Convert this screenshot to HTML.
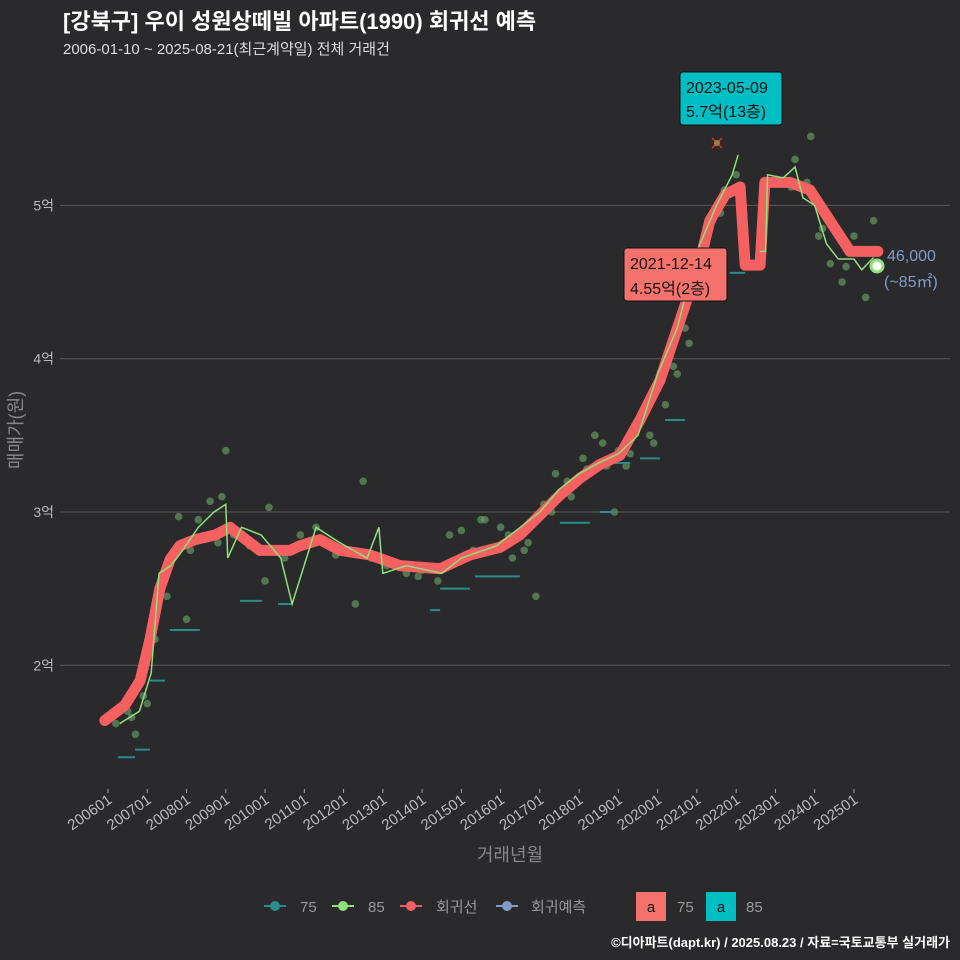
<!DOCTYPE html>
<html><head><meta charset="utf-8">
<style>
body{margin:0;background:#2a292c;font-family:"Liberation Sans","Noto Sans CJK KR",sans-serif;}
#wrap{position:relative;width:960px;height:960px;background:#2a292c;overflow:hidden}
</style></head>
<body>
<div id="wrap">
<svg id="svg" width="960" height="960" xmlns="http://www.w3.org/2000/svg">
<text x="63" y="29" fill="#fff" font-size="22" font-weight="bold" font-family="Liberation Sans,Noto Sans CJK KR,sans-serif">[강북구] 우이 성원상떼빌 아파트(1990) 회귀선 예측</text>
<text x="63" y="54" fill="#ddd" font-size="15" font-family="Liberation Sans,Noto Sans CJK KR,sans-serif">2006-01-10 ~ 2025-08-21(최근계약일) 전체 거래건</text>
<g id="grid"></g><g id="marks"></g><g id="ann"></g>
<text x="510" y="861" fill="#888" font-size="18" text-anchor="middle" font-family="Liberation Sans,Noto Sans CJK KR,sans-serif">거래년월</text>
<text transform="translate(22,430) rotate(-90)" fill="#888" font-size="18" text-anchor="middle" font-family="Liberation Sans,Noto Sans CJK KR,sans-serif">매매가(원)</text>
<g id="legend" font-size="15" fill="#999" font-family="Liberation Sans,Noto Sans CJK KR,sans-serif">
 <g><line x1="264" y1="906" x2="286" y2="906" stroke="#2a8c8c" stroke-width="2"/><circle cx="275" cy="906" r="5" fill="#2a8c8c"/><text x="300" y="912">75</text></g>
 <g><line x1="332" y1="906" x2="354" y2="906" stroke="#8fe07a" stroke-width="2"/><circle cx="343" cy="906" r="5" fill="#8fe07a"/><text x="368" y="912">85</text></g>
 <g><line x1="400" y1="906" x2="422" y2="906" stroke="#f06060" stroke-width="2"/><circle cx="411" cy="906" r="5" fill="#f06060"/><text x="436" y="912">회귀선</text></g>
 <g><line x1="496" y1="906" x2="518" y2="906" stroke="#7f9cc8" stroke-width="2"/><circle cx="507" cy="906" r="5" fill="#7f9cc8"/><text x="531" y="912">회귀예측</text></g>
 <g><rect x="636" y="892" width="30" height="29" fill="#f4726b"/><text x="651" y="912" fill="#111" text-anchor="middle">a</text><text x="677" y="912">75</text></g>
 <g><rect x="706" y="892" width="30" height="29" fill="#00bfc4"/><text x="721" y="912" fill="#111" text-anchor="middle">a</text><text x="746" y="912">85</text></g>
</g>
<text x="950" y="947" fill="#fff" font-size="13" font-weight="bold" text-anchor="end" font-family="Liberation Sans,Noto Sans CJK KR,sans-serif">©디아파트(dapt.kr) / 2025.08.23 / 자료=국토교통부 실거래가</text>
</svg>
</div>
<script>
const yTicks=[2,3,4,5];
const yTickLabels=["2억","3억","4억","5억"];
const xTickYears=[2006,2007,2008,2009,2010,2011,2012,2013,2014,2015,2016,2017,2018,2019,2020,2021,2022,2023,2024,2025];
const xTickLabels=["200601","200701","200801","200901","201001","201101","201201","201301","201401","201501","201601","201701","201801","201901","202001","202101","202201","202301","202401","202501"];
const regT=[2005.92,2006.43,2006.82,2007.07,2007.32,2007.58,2007.83,2008.22,2008.73,2009.11,2009.36,2009.87,2010.64,2010.89,2011.40,2011.91,2012.67,2013.44,2014.46,2015.22,2015.99,2016.49,2017.0,2017.51,2018.02,2018.53,2019.04,2019.55,2020.06,2020.57,2021.08,2021.33,2021.72,2022.10,2022.23,2022.61,2022.73,2023.37,2023.88,2024.39,2024.90,2025.61];
const regV=[1.64,1.74,1.90,2.17,2.50,2.69,2.78,2.82,2.85,2.90,2.85,2.75,2.75,2.78,2.82,2.75,2.72,2.65,2.63,2.72,2.77,2.85,2.98,3.11,3.22,3.31,3.37,3.60,3.86,4.25,4.64,4.90,5.07,5.12,4.61,4.61,5.15,5.15,5.10,4.90,4.70,4.70];
const g85T=[2006.3,2006.8,2007.1,2007.3,2007.6,2007.9,2008.3,2008.7,2009.0,2009.05,2009.4,2009.9,2010.4,2010.69,2011.3,2011.9,2012.6,2012.9,2013.0,2013.6,2014.5,2015.0,2015.9,2016.5,2017.0,2017.5,2018.0,2018.5,2019.0,2019.5,2020.0,2020.5,2021.0,2021.5,2021.9,2022.05];
const g85V=[1.62,1.70,1.95,2.60,2.65,2.75,2.90,3.00,3.05,2.70,2.90,2.85,2.70,2.40,2.90,2.80,2.70,2.90,2.60,2.65,2.60,2.70,2.78,2.90,3.00,3.15,3.25,3.32,3.38,3.50,3.90,4.20,4.70,5.00,5.20,5.33];
const g85bT=[2022.6,2022.75,2022.8,2023.2,2023.5,2023.7,2024.0,2024.3,2024.6,2025.0,2025.2,2025.5];
const g85bV=[4.70,4.70,5.20,5.18,5.25,5.05,5.00,4.75,4.65,4.65,4.58,4.66];
const t75Start=[2006.25,2006.69,2007.07,2007.58,2009.36,2010.33,2014.2,2014.46,2015.35,2017.51,2018.53,2018.91,2019.55,2020.19,2021.84];
const t75End=[2006.69,2007.07,2007.45,2008.34,2009.92,2010.69,2014.46,2015.22,2016.49,2018.27,2018.91,2019.30,2020.06,2020.70,2022.23];
const t75Val=[1.40,1.45,1.90,2.23,2.42,2.40,2.36,2.50,2.58,2.93,3.00,3.32,3.35,3.60,4.56];
const ptT=[2006.2,2006.5,2006.7,2006.9,2007.0,2007.2,2007.5,2007.8,2008.0,2008.3,2008.6,2008.8,2009.0,2009.2,2009.6,2010.1,2010.5,2010.9,2011.3,2011.8,2012.3,2012.7,2013.1,2013.6,2014.0,2014.4,2014.7,2015.0,2015.3,2015.6,2016.0,2016.3,2016.7,2017.1,2017.4,2017.8,2018.1,2018.4,2018.7,2019.0,2019.3,2019.6,2019.9,2020.2,2020.5,2020.8,2021.1,2021.4,2021.7,2022.0,2022.9,2023.2,2023.5,2023.8,2024.1,2024.4,2024.7,2025.0,2025.3,2025.5,2008.9,2010.0,2012.5,2016.9,2018.9,2023.9,2006.6,2007.4,2008.1,2011.1,2013.9,2014.9,2015.5,2016.2,2016.6,2017.3,2017.7,2018.2,2018.6,2019.2,2019.4,2019.8,2020.1,2020.4,2020.7,2021.2,2021.6,2023.4,2024.2,2024.8,2025.1];
const ptV=[1.62,1.70,1.55,1.80,1.75,2.17,2.45,2.97,2.30,2.95,3.07,2.80,3.40,2.85,2.78,3.03,2.70,2.85,2.90,2.72,2.40,2.70,2.65,2.60,2.62,2.55,2.85,2.88,2.75,2.95,2.90,2.70,2.80,3.05,3.25,3.10,3.35,3.50,3.30,3.40,3.38,3.60,3.45,3.70,3.90,4.10,4.70,4.90,5.10,5.20,5.70,5.16,5.30,5.15,4.80,4.62,4.50,4.80,4.40,4.90,3.10,2.55,3.20,2.45,3.00,5.45,1.66,2.60,2.75,2.78,2.58,2.68,2.95,2.85,2.75,3.00,3.20,3.28,3.45,3.30,3.55,3.50,3.85,3.95,4.20,4.50,4.95,5.12,4.85,4.60,4.70];

const NS="http://www.w3.org/2000/svg";
const X=t=>108+(t-2006)*39.26;
const Y=v=>512-(v-3)*153.3;
function mk(tag,attrs,parent){const e=document.createElementNS(NS,tag);for(const k in attrs)e.setAttribute(k,attrs[k]);parent.appendChild(e);return e;}
const grid=document.getElementById('grid'),marks=document.getElementById('marks');
yTicks.forEach((v,i)=>{
 const l=mk('line',{x1:60,x2:950,y1:Y(v),y2:Y(v),stroke:'#5a5a5a','stroke-width':1},grid);
 
 
 const t=mk('text',{x:54,y:Y(v)+5,fill:'#bbb','font-size':14,'text-anchor':'end'},grid);
 t.textContent=yTickLabels[i];
 
 
});
xTickYears.forEach((yr,i)=>{
 const l=mk('line',{x1:X(yr),x2:X(yr),y1:789,y2:793,stroke:'#aaa'},grid);
 
 
 const t=mk('text',{transform:`translate(${X(yr)+5},802) rotate(-35)`,fill:'#bbb','font-size':15,'text-anchor':'end'},grid);
 t.textContent=xTickLabels[i];
 
 
});
ptT.forEach((t,i)=>{
 const c=mk('circle',{cx:X(t),cy:Y(ptV[i]),r:3.8,fill:'#6fa86a','fill-opacity':0.6},marks);
 
 
});
t75Start.forEach((s,i)=>{
 const l=mk('line',{x1:X(s),x2:X(t75End[i]),y1:Y(t75Val[i]),y2:Y(t75Val[i]),stroke:'#2a8c8c','stroke-width':2},marks);
 
 
});
const pts=(T,V)=>T.map((t,i)=>X(t)+','+Y(V[i])).join(' ');
const reg=mk('polyline',{points:pts(regT,regV),fill:'none',stroke:'#f56060','stroke-width':11,'stroke-linejoin':'round','stroke-linecap':'round'},marks);


const g1=mk('polyline',{points:pts(g85T,g85V),fill:'none',stroke:'#8fe07a','stroke-width':1.5},marks);


const g2=mk('polyline',{points:pts(g85bT,g85bV),fill:'none',stroke:'#8fe07a','stroke-width':1.5},marks);


const ann=document.getElementById('ann');
ann.innerHTML=`
<g><line x1="712" y1="138" x2="722" y2="148" stroke="#e03030" stroke-width="1.5"/><line x1="722" y1="138" x2="712" y2="148" stroke="#e03030" stroke-width="1.5"/><circle cx="717" cy="143" r="3" fill="#a08040"/></g>
<g><rect x="680" y="72" width="102" height="53" rx="3" fill="#00bfc4" stroke="#111"/><text x="686" y="93" font-size="16" fill="#111">2023-05-09</text><text x="686" y="117" font-size="16" fill="#111">5.7억(13층)</text></g>
<g><rect x="624" y="248" width="103" height="53" rx="3" fill="#f4726b" stroke="#111"/><text x="630" y="269" font-size="16" fill="#111">2021-12-14</text><text x="630" y="294" font-size="16" fill="#111">4.55억(2층)</text></g>
<g><circle cx="877" cy="266" r="6" fill="#fff" stroke="#8fe07a" stroke-width="3"/></g>
<text x="887" y="261" font-size="16" fill="#7f9cc8">46,000</text>
<text x="884" y="287" font-size="16" fill="#7f9cc8">(~85㎡)</text>`;
</script>
</body></html>
